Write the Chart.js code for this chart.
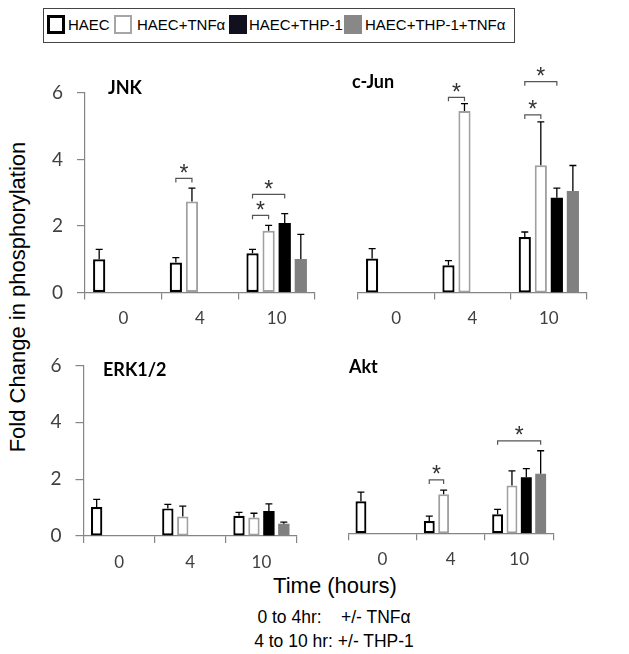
<!DOCTYPE html>
<html>
<head>
<meta charset="utf-8">
<script src="https://cdn.jsdelivr.net/npm/chart.js@4.4.1/dist/chart.umd.min.js"></script>
<style>
  body { margin: 0; background: #fff; width: 629px; height: 654px; position: relative; overflow: hidden;
         font-family: "Liberation Sans", Arial, sans-serif; color: #000; }
  canvas { position: absolute; }
  .legend { position: absolute; left: 43px; top: 8px; width: 472px; height: 35px; border: 1px solid #444; box-sizing: border-box; }
  .sw { position: absolute; top: 15px; width: 18px; height: 19px; box-sizing: border-box; }
  .lab { position: absolute; top: 17px; font-size: 15px; line-height: 15px; white-space: nowrap; }
  .ytitle { position: absolute; left: -182px; top: 286px; width: 400px; font-size: 22px; line-height: 22px;
            text-align: center; transform: rotate(-90deg); white-space: nowrap; }
  .xtitle { position: absolute; left: 185px; top: 575px; width: 300px; font-size: 22px; line-height: 21px; text-align: center; }
  .note { position: absolute; left: 184px; width: 300px; font-size: 17.5px; line-height: 17.5px; text-align: center; white-space: pre; }
</style>
</head>
<body>
<div class="legend"></div>
<div class="sw" style="left:47px; border:3px solid #000; background:#fff;"></div>
<div class="lab" style="left:68px;">HAEC</div>
<div class="sw" style="left:114px; border:2.5px solid #a6a6a6; background:#fff;"></div>
<div class="lab" style="left:137px;">HAEC+TNFα</div>
<div class="sw" style="left:229px; background:#10101e;"></div>
<div class="lab" style="left:249px;">HAEC+THP-1</div>
<div class="sw" style="left:344px; background:#888;"></div>
<div class="lab" style="left:365px;">HAEC+THP-1+TNFα</div>

<canvas id="jnk" style="left:30px; top:55px;"></canvas>
<canvas id="cjun" style="left:330px; top:55px;"></canvas>
<canvas id="erk" style="left:30px; top:340px;"></canvas>
<canvas id="akt" style="left:330px; top:340px;"></canvas>

<div class="ytitle">Fold Change in phosphorylation</div>
<div class="xtitle">Time (hours)</div>
<div class="note" style="top:609px;">0 to 4hr:    +/- TNFα</div>
<div class="note" style="top:632.5px;">4 to 10 hr: +/- THP-1</div>

<script>
// categories and series
const timePoints = ["0", "4", "10"];
const seriesNames = ["HAEC", "HAEC+TNFα", "HAEC+THP-1", "HAEC+THP-1+TNFα"];
const yTicks = [0, 2, 4, 6];

// means per series (HAEC, +TNFa, +THP-1, +THP-1+TNFa), one value per time point
const jnkMean = [[1.0, 0.9, 1.18], [null, 2.74, 1.86], [null, null, 2.09], [null, null, 1.01]];
const jnkErr = [[0.3, 0.15, 0.12], [null, 0.4, 0.16], [null, null, 0.28], [null, null, 0.74]];
const cjunMean = [[1.02, 0.82, 1.67], [null, 5.46, 3.83], [null, null, 2.85], [null, null, 3.05]];
const cjunErr = [[0.3, 0.14, 0.15], [null, 0.22, 1.3], [null, null, 0.29], [null, null, 0.77]];
const erkMean = [[1.02, 0.97, 0.71], [null, 0.69, 0.65], [null, null, 0.88], [null, null, 0.43]];
const erkErr = [[0.27, 0.14, 0.12], [null, 0.36, 0.15], [null, null, 0.25], [null, null, 0.06]];
const aktMean = [[1.1, 0.42, 0.65], [null, 1.34, 1.64], [null, null, 1.92], [null, null, 2.04]];
const aktErr = [[0.31, 0.17, 0.17], [null, 0.14, 0.5], [null, null, 0.3], [null, null, 0.79]];

// significance brackets: [time index, from series, to series, bracket height]
const jnkStars = [[1, 0, 1, 3.43], [2, 0, 1, 2.32], [2, 0, 2, 2.95]];
const cjunStars = [[1, 0, 1, 5.87], [2, 0, 1, 5.34], [2, 0, 2, 6.34]];
const erkStars = [];
const aktStars = [[1, 0, 1, 1.83], [2, 0, 3, 3.17]];

const seriesStyle = [
  { backgroundColor: "#fff", borderColor: "#000", borderWidth: 2.2 },
  { backgroundColor: "#fff", borderColor: "#a0a0a0", borderWidth: 2 },
  { backgroundColor: "#000", borderColor: "#000", borderWidth: 0 },
  { backgroundColor: "#808080", borderColor: "#808080", borderWidth: 0 },
];

// error bars drawn upward from each bar top
const errorBars = {
  id: "errorBars",
  afterDatasetsDraw(chart) {
    const ctx = chart.ctx;
    const y = chart.scales.y;
    ctx.save();
    ctx.strokeStyle = "#000";
    ctx.lineWidth = 1.3;
    chart.data.datasets.forEach((ds, i) => {
      chart.getDatasetMeta(i).data.forEach((bar, j) => {
        const v = ds.data[j];
        const e = ds.errors[j];
        if (v == null || e == null) return;
        const top = y.getPixelForValue(v + e);
        ctx.beginPath();
        ctx.moveTo(bar.x, bar.y);
        ctx.lineTo(bar.x, top);
        ctx.moveTo(bar.x - 3.5, top);
        ctx.lineTo(bar.x + 3.5, top);
        ctx.stroke();
      });
    });
    ctx.restore();
  },
};

// brackets with a star between two bars
const sigBrackets = {
  id: "sigBrackets",
  afterDatasetsDraw(chart, args, opts) {
    const ctx = chart.ctx;
    const y = chart.scales.y;
    ctx.save();
    ctx.strokeStyle = "#555";
    ctx.lineWidth = 1.2;
    ctx.fillStyle = "#333";
    ctx.font = '23px "Liberation Sans"';
    ctx.textAlign = "center";
    ctx.textBaseline = "middle";
    (opts.items || []).forEach(([cat, a, b, level]) => {
      const xa = chart.getDatasetMeta(a).data[cat].x;
      const xb = chart.getDatasetMeta(b).data[cat].x;
      const py = y.getPixelForValue(level);
      ctx.beginPath();
      ctx.moveTo(xa, py + 4);
      ctx.lineTo(xa, py);
      ctx.lineTo(xb, py);
      ctx.lineTo(xb, py + 4);
      ctx.stroke();
      ctx.fillText("*", (xa + xb) / 2, py - 4);
    });
    ctx.restore();
  },
};

const panelTitle = {
  id: "panelTitle",
  afterDraw(chart, args, opts) {
    const a = chart.chartArea;
    const ctx = chart.ctx;
    ctx.save();
    ctx.font = "bold 18px Lato";
    ctx.fillStyle = "#000";
    ctx.textBaseline = "alphabetic";
    ctx.fillText(opts.text, a.left + opts.dx, a.top + opts.dy);
    ctx.restore();
  },
};

// box = canvas rect [x, y, w, h]; area = wanted plot area [left, top, right, bottom] in page pixels
function makePanel(id, title, box, area, titleOff, means, errs, stars, showY) {
  const canvas = document.getElementById(id);
  canvas.width = box[2];
  canvas.height = box[3];
  const yWidth = area[0] - box[0];
  const xHeight = box[1] + box[3] - area[3];

  new Chart(canvas, {
    type: "bar",
    data: {
      labels: timePoints,
      datasets: seriesNames.map((name, i) => ({
        label: name,
        data: means[i],
        errors: errs[i],
        ...seriesStyle[i],
        borderSkipped: false,
        categoryPercentage: 0.84,
        barPercentage: 0.76,
      })),
    },
    options: {
      responsive: false,
      animation: false,
      devicePixelRatio: 1,
      layout: {
        padding: {
          left: showY ? 0 : yWidth,
          top: area[1] - box[1],
          right: box[0] + box[2] - area[2],
          bottom: 0,
        },
      },
      scales: {
        x: {
          grid: { drawOnChartArea: false, drawTicks: true, tickLength: 7, color: "#858585", lineWidth: 1.2, offset: true },
          border: { display: true, color: "#858585", width: 1.2 },
          ticks: { color: "#404040", font: { family: "Lato", size: 17 }, padding: 9 },
          afterFit(scale) { scale.height = xHeight; },
        },
        y: {
          display: showY,
          min: 0,
          max: 6,
          afterBuildTicks(scale) { scale.ticks = yTicks.map((v) => ({ value: v })); },
          grid: { drawOnChartArea: false, drawTicks: true, tickLength: 8, color: "#858585", lineWidth: 1.2 },
          border: { display: true, color: "#858585", width: 1.2 },
          ticks: { color: "#404040", font: { family: "Lato", size: 19 }, padding: 14 },
          afterFit(scale) { scale.width = showY ? yWidth : 0; },
        },
      },
      plugins: {
        legend: { display: false },
        tooltip: { enabled: false },
        sigBrackets: { items: stars },
        panelTitle: { text: title, dx: titleOff[0], dy: titleOff[1] },
      },
    },
    plugins: [errorBars, sigBrackets, panelTitle],
  });
}

makePanel("jnk", "JNK", [30, 55, 300, 285], [85, 93, 315, 292.5], [23, 0.5], jnkMean, jnkErr, jnkStars, true);
makePanel("cjun", "c-Jun", [330, 55, 290, 285], [358, 93, 587, 292.5], [-6, -5], cjunMean, cjunErr, cjunStars, false);
makePanel("erk", "ERK1/2", [30, 340, 300, 230], [83.5, 361.7, 297, 536], [19.5, 10.6], erkMean, erkErr, erkStars, true);
makePanel("akt", "Akt", [330, 340, 290, 230], [348.3, 358.3, 553.3, 533.3], [0.7, 15], aktMean, aktErr, aktStars, false);
</script>
</body>
</html>
